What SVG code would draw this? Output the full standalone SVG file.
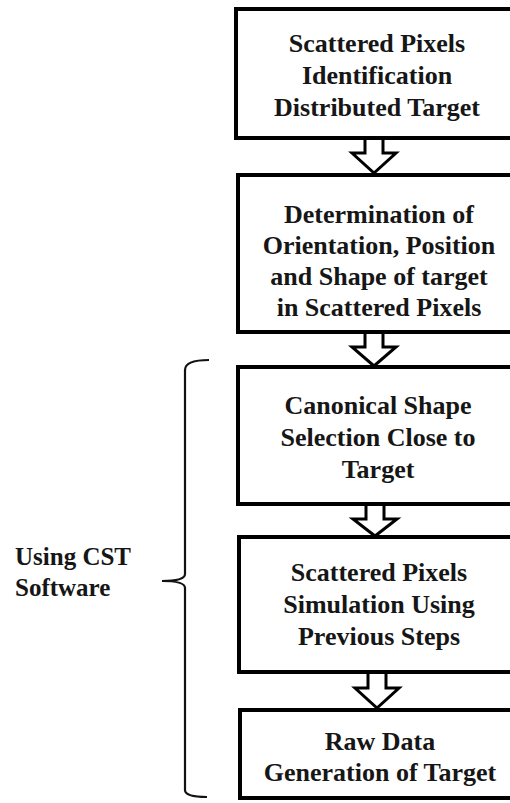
<svg xmlns="http://www.w3.org/2000/svg" width="510" height="803" viewBox="0 0 510 803">
<style>
.box{fill:#fff;stroke:#000;stroke-width:4}
.arr{fill:#fff;stroke:#000;stroke-width:3;stroke-linejoin:miter}
.t{font-family:"Liberation Serif","Times New Roman",serif;font-weight:bold;font-size:26px;fill:#161616;text-anchor:middle}
.lbl{font-family:"Liberation Serif","Times New Roman",serif;font-weight:bold;font-size:25px;fill:#161616}
.brace{fill:none;stroke:#111;stroke-width:2.2}
</style>
<rect width="510" height="803" fill="#fff"/>
<g id="connectors">
<path class="arr" d="M365,138 L365,153 L352,153 L374,173 L396,153 L383,153 L383,138"/>
<path class="arr" d="M365,331 L365,347 L352,347 L374,366 L396,347 L383,347 L383,331"/>
<path class="arr" d="M366,503 L366,519 L353,519 L375,536 L397,519 L384,519 L384,503"/>
<path class="arr" d="M368,671 L368,688 L355,688 L377,708 L399,688 L386,688 L386,671"/>
</g>
<g id="n1">
<rect class="box" x="236" y="9" width="290" height="129"/>
<text class="t" x="377" y="52">Scattered Pixels</text>
<text class="t" x="377" y="84">Identification</text>
<text class="t" x="377" y="116">Distributed Target</text>
</g>
<g id="n2">
<rect class="box" x="238" y="175" width="290" height="157"/>
<text class="t" x="379" y="223">Determination of</text>
<text class="t" x="379" y="254">Orientation, Position</text>
<text class="t" x="379" y="285">and Shape of target</text>
<text class="t" x="379" y="316">in Scattered Pixels</text>
</g>
<g id="n3">
<rect class="box" x="238" y="367" width="290" height="137"/>
<text class="t" x="378" y="414">Canonical Shape</text>
<text class="t" x="378" y="446">Selection Close to</text>
<text class="t" x="378" y="478">Target</text>
</g>
<g id="n4">
<rect class="box" x="239" y="537" width="290" height="135"/>
<text class="t" x="379" y="581">Scattered Pixels</text>
<text class="t" x="379" y="613">Simulation Using</text>
<text class="t" x="379" y="645">Previous Steps</text>
</g>
<g id="n5">
<rect class="box" x="240" y="710" width="290" height="88"/>
<text class="t" x="380" y="750">Raw Data</text>
<text class="t" x="380" y="781">Generation of Target</text>
</g>
<g id="brace">
<path class="brace" d="M209,360 C195,360 185,362 185,370 L185,574 C185,579 175,581 162,581 C175,581 185,583 185,588 L185,790 C185,795 195,797 207,797"/>
</g>
<g id="label">
<text class="lbl" x="15" y="565">Using CST</text>
<text class="lbl" x="15" y="596">Software</text>
</g>
</svg>
